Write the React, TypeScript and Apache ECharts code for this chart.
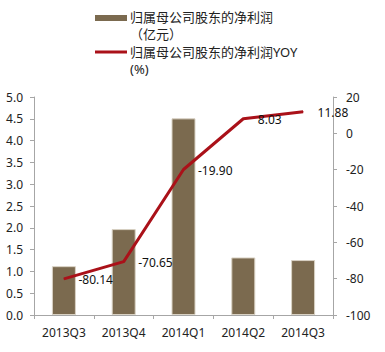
import React, { useEffect, useRef } from "react";
import * as echarts from "echarts";

const categories = ["2013Q3", "2013Q4", "2014Q1", "2014Q2", "2014Q3"];
const profit = [1.12, 1.97, 4.51, 1.32, 1.26];
const yoy = [-80.14, -70.65, -19.9, 8.03, 11.88];
const barName = "归属母公司股东的净利润（亿元）";
const lineName = "归属母公司股东的净利润YOY(%)";

const FONT = "'Noto Sans', 'Noto Sans CJK SC', sans-serif";
const AXIS_COLOR = "#a6a6a6";

export default function App() {
  const ref = useRef<HTMLDivElement>(null);
  useEffect(() => {
    document.body.style.margin = "0";
    const chart = echarts.init(ref.current!, undefined, { renderer: "svg" });
    chart.setOption({
      animation: false,
      textStyle: { fontFamily: FONT },
      grid: { left: 34, right: 52, top: 97, bottom: 37 },
      graphic: [
        { type: "rect", left: 95, top: 15, shape: { width: 32, height: 6 }, style: { fill: "#7b6a4f" } },
        {
          type: "text", left: 130, top: 8,
          style: { text: "归属母公司股东的净利润\n（亿元）", fontSize: 13, lineHeight: 17, fill: "#222", fontFamily: FONT },
        },
        { type: "line", shape: { x1: 95, y1: 52, x2: 127, y2: 52 }, style: { stroke: "#aa1119", lineWidth: 3 } },
        {
          type: "text", left: 130, top: 43,
          style: { text: "归属母公司股东的净利润YOY\n(%)", fontSize: 13, lineHeight: 17, fill: "#222", fontFamily: FONT },
        },
      ],
      xAxis: {
        type: "category",
        data: categories,
        axisLine: { lineStyle: { color: AXIS_COLOR } },
        axisTick: { show: true, length: 4, lineStyle: { color: AXIS_COLOR } },
        axisLabel: { color: "#222", fontSize: 12, margin: 11 },
      },
      yAxis: [
        {
          type: "value", min: 0, max: 5, interval: 0.5,
          axisLine: { show: true, lineStyle: { color: AXIS_COLOR } },
          axisTick: { show: true, length: 4, lineStyle: { color: AXIS_COLOR } },
          splitLine: { show: false },
          axisLabel: { color: "#222", fontSize: 12, margin: 11, formatter: (v: number) => v.toFixed(1) },
        },
        {
          type: "value", min: -100, max: 20, interval: 20, position: "right",
          axisLine: { show: true, lineStyle: { color: AXIS_COLOR } },
          axisTick: { show: true, length: 4, lineStyle: { color: AXIS_COLOR } },
          splitLine: { show: false },
          axisLabel: { color: "#222", fontSize: 12, margin: 13 },
        },
      ],
      series: [
        {
          name: barName, type: "bar", data: profit, barWidth: 24, yAxisIndex: 0,
          itemStyle: { color: "#7b6a4f", borderColor: "#d9d2c4", borderWidth: 1 },
        },
        {
          name: lineName, type: "line", data: yoy, yAxisIndex: 1,
          symbol: "circle", symbolSize: 1, showSymbol: true,
          itemStyle: { color: "#aa1119" },
          lineStyle: { color: "#aa1119", width: 3 },
          label: {
            show: true, position: "right", distance: 14, offset: [0, 1],
            color: "#111", fontSize: 12, fontFamily: FONT,
            formatter: (p: any) => Number(p.value).toFixed(2),
          },
        },
      ],
    });
    return () => chart.dispose();
  }, []);
  return <div ref={ref} style={{ width: 385, height: 352 }} />;
}
